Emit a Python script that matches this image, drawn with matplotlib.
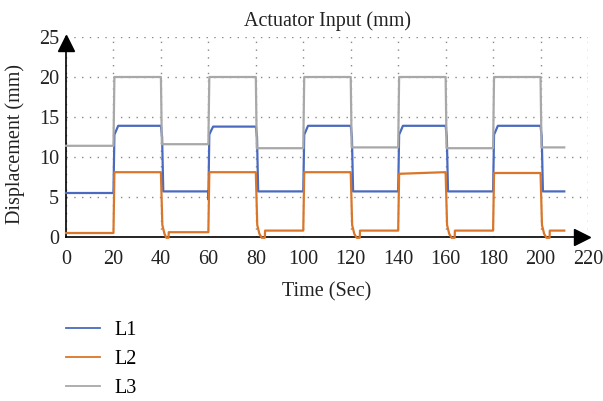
import matplotlib
matplotlib.use("Agg")
import matplotlib.pyplot as plt
from matplotlib import transforms

# ---- data ----
xticks = [0, 20, 40, 60, 80, 100, 120, 140, 160, 180, 200, 220]
yticks = [0, 5, 10, 15, 20, 25]
title = "Actuator Input (mm)"
xlabel = "Time (Sec)"
ylabel = "Displacement (mm)"
labels = ["L1", "L2", "L3"]

L1_t = [0, 20, 20.4, 21.0, 22.0, 40.0, 40.5, 41.0, 60.0, 60.0, 60.4, 61.0, 62.0, 80.0, 80.5, 81.0,
        100.0, 100.4, 101.0, 102.0, 120.0, 120.5, 121.0, 140.0, 140.4, 141.0, 142.0, 160.0, 160.5, 161.0,
        180.0, 180.4, 181.0, 182.0, 200.0, 200.5, 201.0, 210.0]
L1_v = [5.5, 5.5, 12.8, 13.2, 13.9, 13.9, 12.5, 5.7, 5.7, 4.7, 12.8, 13.2, 13.8, 13.8, 12.5, 5.7,
        5.7, 12.8, 13.2, 13.9, 13.9, 12.5, 5.7, 5.7, 12.8, 13.2, 13.9, 13.9, 12.5, 5.7,
        5.7, 12.8, 13.2, 13.9, 13.9, 12.5, 5.7, 5.7]

L2_t = [0, 20, 20.4, 40.0, 40.6, 41.5, 42.3, 43.2, 43.3, 60.0, 60.4, 80.0, 80.6, 81.5, 82.5, 83.8, 83.9,
        100.0, 100.4, 120.0, 120.6, 121.5, 122.5, 123.8, 123.9, 140.0, 140.4, 159.5, 160.0, 160.6, 161.5,
        162.5, 163.8, 163.9, 180.0, 180.4, 200.0, 200.6, 201.5, 202.5, 203.8, 203.9, 210.0]
L2_v = [0.5, 0.5, 8.1, 8.1, 1.5, 0.4, -0.1, -0.1, 0.6, 0.6, 8.1, 8.1, 1.5, 0.4, -0.1, -0.1, 0.8,
        0.8, 8.1, 8.1, 1.5, 0.4, -0.1, -0.1, 0.8, 0.8, 7.9, 8.1, 8.1, 1.5, 0.4,
        -0.1, -0.1, 0.8, 0.8, 8.0, 8.0, 1.5, 0.4, -0.1, -0.1, 0.8, 0.8]

L3_t = [0, 20, 20.4, 40.0, 40.4, 60.0, 60.4, 80.0, 80.4, 100.0, 100.4, 120.0, 120.4,
        140.0, 140.4, 160.0, 160.4, 180.0, 180.4, 200.0, 200.4, 210.0]
L3_v = [11.4, 11.4, 20.0, 20.0, 11.6, 11.6, 20.0, 20.0, 11.1, 11.1, 20.0, 20.0, 11.2,
        11.2, 20.0, 20.0, 11.1, 11.1, 20.0, 20.0, 11.2, 11.2]

colors = ["#4a6abf", "#d9762a", "#a8a8a8"]

# ---- figure ----
plt.rcParams['font.family'] = ['Liberation Serif', 'DejaVu Serif']
fs = 14.5

fig = plt.figure(figsize=(6.03, 4.01), dpi=100)
ax = fig.add_axes([66 / 603, 1 - 237 / 401, (588 - 66) / 603, 200 / 401])

ax.set_xlim(0, 220)
ax.set_ylim(0, 25)
ax.set_xticks(xticks)
ax.set_yticks(yticks)
ax.tick_params(length=0, labelsize=fs, colors="#222222")
ax.tick_params(axis="x", pad=9)
ax.tick_params(axis="y", pad=5)

for s in ["top", "right"]:
    ax.spines[s].set_visible(False)
for s in ["left", "bottom"]:
    ax.spines[s].set_color("black")
    ax.spines[s].set_linewidth(1.2)

ax.grid(True, color="#888888", linewidth=1.0, linestyle=(0, (1, 4.6)))
ax.set_axisbelow(True)

for t, v, c, lab in zip([L1_t, L2_t, L3_t], [L1_v, L2_v, L3_v], colors, labels):
    ax.plot(t, v, color=c, linewidth=1.6, label=lab, zorder=3, clip_on=False)

# arrows on axes
up = transforms.offset_copy(ax.transData, fig=fig, x=0, y=-6, units='dots')
ax.plot([0], [25], marker="^", markersize=11, color="black", transform=up, clip_on=False, zorder=5)
rt = transforms.offset_copy(ax.transData, fig=fig, x=-6, y=0, units='dots')
ax.plot([220], [0], marker=">", markersize=11, color="black", transform=rt, clip_on=False, zorder=5)

ax.set_title(title, fontsize=fs, pad=8, color="#222222")
ax.set_xlabel(xlabel, fontsize=fs, labelpad=10, color="#222222")
ax.set_ylabel(ylabel, fontsize=fs, color="#222222")
ax.yaxis.set_label_coords(-0.078, 0.465)

leg = fig.legend(loc="upper left", bbox_to_anchor=(66 / 603, 1 - 321 / 401), frameon=False,
                 fontsize=fs, handlelength=1.7, handletextpad=0.7, labelspacing=0.5,
                 borderpad=0, borderaxespad=0)
for h in leg.get_lines():
    h.set_linewidth(1.3)

fig.savefig("out.png", dpi=100)
